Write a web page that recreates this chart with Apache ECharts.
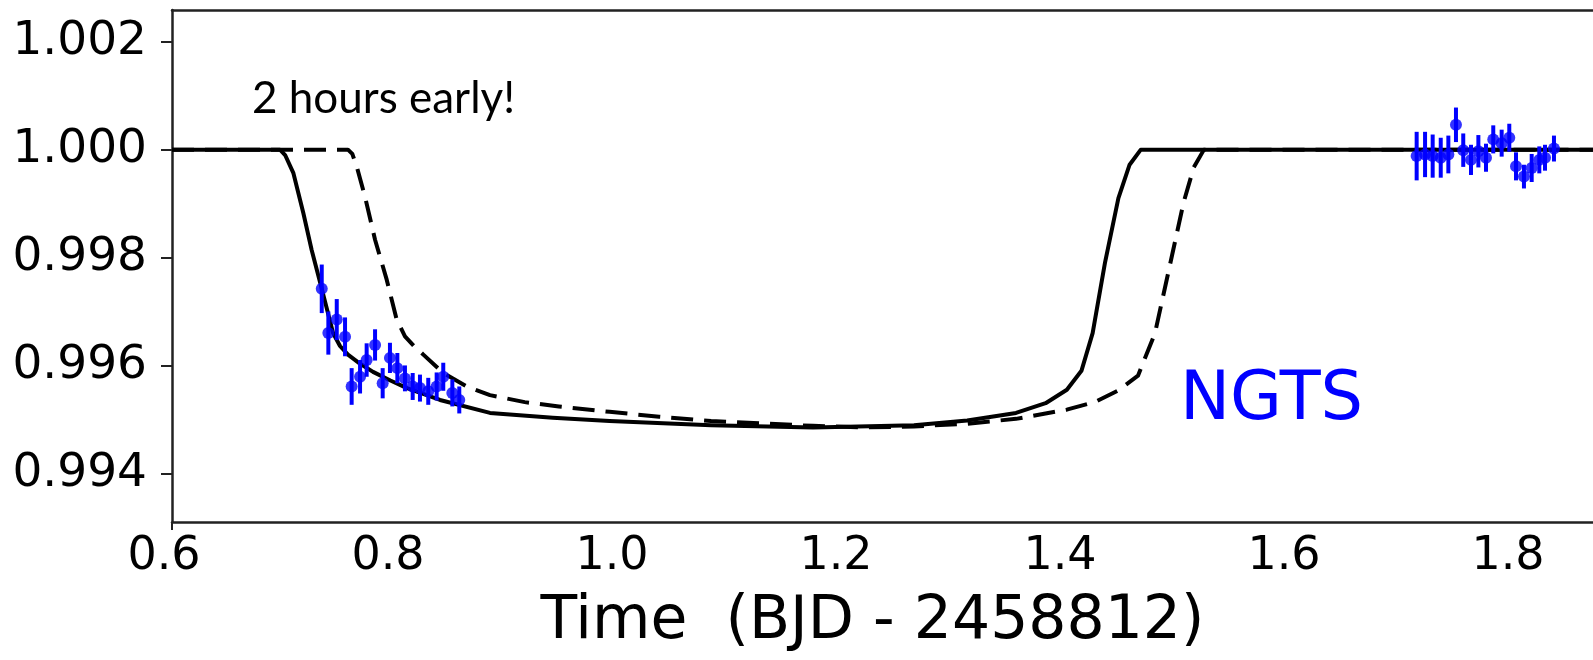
<!DOCTYPE html>
<html>
<head>
<meta charset="utf-8">
<script src="https://cdn.jsdelivr.net/npm/echarts@6/dist/echarts.min.js"></script>
<style>
  html, body { margin: 0; padding: 0; background: #fff; }
  #main { width: 1593px; height: 660px; }
</style>
</head>
<body>
<div id="main"></div>
<script>
// model light curves (time, relative flux)
var solidTime = [0.6, 0.6964, 0.7010, 0.7083, 0.7172, 0.7247, 0.7337, 0.7438, 0.7500, 0.7571, 0.7680, 0.7795, 0.7950, 0.8098,
                 0.8393, 0.8839, 0.9400, 0.9907, 1.0813, 1.1723, 1.2625, 1.3100, 1.3536, 1.3800, 1.3990, 1.4120, 1.4220,
                 1.4330, 1.4450, 1.4550, 1.4650, 1.8688];
var solidFlux = [1.0, 1.0, 0.99990, 0.99957, 0.99883, 0.99814, 0.99742, 0.99660, 0.99636, 0.99620, 0.99603, 0.99588, 0.99572, 0.99558,
                 0.99536, 0.99512, 0.99503, 0.99497, 0.99489, 0.99485, 0.99489, 0.99498, 0.99512, 0.99530, 0.99555, 0.99590, 0.99660,
                 0.99790, 0.99910, 0.99972, 1.0, 1.0];

var dashTime = [0.6, 0.7571, 0.7610, 0.7649, 0.7723, 0.7813, 0.7917, 0.8006, 0.8080, 0.8160, 0.8244, 0.8422, 0.8631, 0.8839, 0.9150,
                0.9454, 0.9907, 1.0350, 1.0813, 1.1723, 1.2175, 1.2625, 1.3100, 1.3536, 1.3989, 1.4250, 1.4443, 1.4625, 1.4777,
                1.4893, 1.5032, 1.5123, 1.5214, 1.8688];
var dashFlux = [1.0, 1.0, 0.99992, 0.99969, 0.99913, 0.99833, 0.99759, 0.99685, 0.99654, 0.99636, 0.99620, 0.99586, 0.99561, 0.99545, 0.99532,
                0.99524, 0.99514, 0.99505, 0.99497, 0.99488, 0.99485, 0.99487, 0.99492, 0.99501, 0.99518, 0.99533, 0.99553, 0.99581, 0.99660,
                0.99770, 0.99902, 0.99967, 1.0, 1.0];

// NGTS points
var ptTime = [0.7337, 0.7396, 0.7471, 0.7545, 0.7604, 0.7679, 0.7738, 0.7813, 0.7881, 0.7946, 0.8012, 0.8080, 0.8149,
              0.8214, 0.8288, 0.8363, 0.8422, 0.8503, 0.8565,
              1.7113, 1.7188, 1.7256, 1.7328, 1.7396, 1.7464, 1.7529, 1.7598, 1.7664, 1.7732, 1.7797, 1.7872,
              1.7940, 1.8000, 1.8071, 1.8140, 1.8208, 1.8259, 1.8339];
var ptFlux = [0.99742, 0.99660, 0.99685, 0.99653, 0.99561, 0.99579, 0.99610, 0.99638, 0.99567, 0.99614, 0.99595, 0.99576, 0.99561,
              0.99558, 0.99552, 0.99561, 0.99579, 0.99549, 0.99536,
              0.99988, 0.99991, 0.99988, 0.99985, 0.99991, 1.00046, 0.99999, 0.99981, 0.99997, 0.99985, 1.00019, 1.00012,
              1.00022, 0.99969, 0.99950, 0.99966, 0.99981, 0.99985, 1.00002];
var ptErr = [0.00045, 0.00040, 0.00038, 0.00036, 0.00034, 0.00031, 0.00031, 0.00029, 0.00028, 0.00028, 0.00028, 0.00024, 0.00025,
             0.00025, 0.00025, 0.00026, 0.00026, 0.00025, 0.00025,
             0.00045, 0.00042, 0.00040, 0.00037, 0.00035, 0.00032, 0.00031, 0.00028, 0.00030, 0.00026, 0.00026, 0.00025,
             0.00026, 0.00026, 0.00022, 0.00026, 0.00025, 0.00024, 0.00024];

var xTicks = [0.6, 0.8, 1.0, 1.2, 1.4, 1.6, 1.8];
var yTicks = [0.994, 0.996, 0.998, 1.000, 1.002];

function pairs(a, b) {
  var out = [];
  for (var i = 0; i < a.length; i++) out.push([a[i], b[i]]);
  return out;
}

var errData = [];
for (var i = 0; i < ptTime.length; i++) {
  errData.push([ptTime[i], ptFlux[i] - ptErr[i], ptFlux[i] + ptErr[i]]);
}

var myChart = echarts.init(document.getElementById('main'));
var axisColor = '#222';

var option = {
  backgroundColor: '#fff',
  animation: false,
  grid: { left: 172, right: 0, top: 10, bottom: 138 },
  xAxis: [{
    type: 'value',
    min: 0.6,
    max: 1.86875,
    name: 'Time  (BJD - 2458812)',
    nameLocation: 'middle',
    nameGap: 70,
    nameTextStyle: { fontFamily: 'DejaVu Sans', fontSize: 60, color: '#000', padding: [0, 20, 0, 0] },
    axisLine: { show: true, lineStyle: { color: axisColor, width: 2.5 } },
    axisTick: { show: true, length: 8, customValues: [0.6], lineStyle: { color: axisColor, width: 2 } },
    axisLabel: {
      customValues: xTicks,
      margin: 12,
      padding: [0, 16, 0, 0],
      fontFamily: 'DejaVu Sans', fontSize: 46, color: '#000',
      formatter: function (v) { return v.toFixed(1); }
    },
    splitLine: { show: false }
  }, {
    type: 'value',
    position: 'top',
    min: 0.6,
    max: 1.86875,
    axisLine: { show: true, onZero: false, lineStyle: { color: axisColor, width: 2.5 } },
    axisTick: { show: false },
    axisLabel: { show: false },
    splitLine: { show: false }
  }],
  yAxis: {
    type: 'value',
    min: 0.993098,
    max: 1.002588,
    axisLine: { show: true, lineStyle: { color: axisColor, width: 2.5 } },
    axisTick: { show: true, length: 11, customValues: yTicks, lineStyle: { color: axisColor, width: 2 } },
    axisLabel: {
      customValues: yTicks,
      margin: 25,
      fontFamily: 'DejaVu Sans', fontSize: 47, color: '#000',
      formatter: function (v) { return v.toFixed(3); }
    },
    splitLine: { show: false }
  },
  series: [{
    type: 'line',
    data: pairs(dashTime, dashFlux),
    showSymbol: false,
    smooth: false,
    lineStyle: { color: '#000', width: 4, type: [22, 11], join: 'round' },
    z: 2
  }, {
    type: 'line',
    data: pairs(solidTime, solidFlux),
    showSymbol: false,
    smooth: false,
    lineStyle: { color: '#000', width: 4, join: 'round' },
    z: 3
  }, {
    type: 'custom',
    data: errData,
    renderItem: function (params, api) {
      var lo = api.coord([api.value(0), api.value(1)]);
      var hi = api.coord([api.value(0), api.value(2)]);
      return {
        type: 'line',
        shape: { x1: lo[0], y1: lo[1], x2: hi[0], y2: hi[1] },
        style: { stroke: '#0000ff', lineWidth: 4 }
      };
    },
    z: 4
  }, {
    type: 'scatter',
    data: pairs(ptTime, ptFlux),
    symbol: 'circle',
    symbolSize: 12,
    itemStyle: { color: '#0000ff' },
    z: 5
  }],
  graphic: [{
    type: 'text',
    x: 252, y: 99,
    style: { text: '2 hours early!', font: '44px Lato', fill: '#000', verticalAlign: 'middle' }
  }, {
    type: 'text',
    x: 1180, y: 402,
    style: { text: 'NGTS', font: '67px "DejaVu Sans"', fill: '#0000ff', verticalAlign: 'middle' }
  }]
};

myChart.setOption(option);
</script>
</body>
</html>
